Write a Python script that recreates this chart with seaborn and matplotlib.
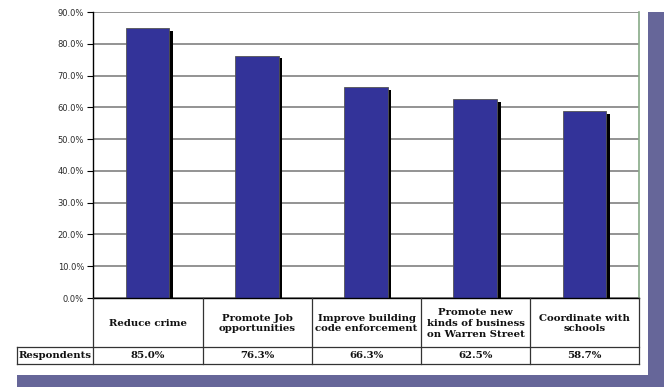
import matplotlib
matplotlib.use("Agg")
import matplotlib.pyplot as plt
import matplotlib.patheffects as pe
from matplotlib.patches import Rectangle
import seaborn as sns
import pandas as pd

categories = ["Reduce crime", "Promote Job\nopportunities", "Improve building\ncode enforcement",
              "Promote new\nkinds of business\non Warren Street", "Coordinate with\nschools"]
respondents = [85.0, 76.3, 66.3, 62.5, 58.7]
row_label = "Respondents"
y_ticks = [0, 10, 20, 30, 40, 50, 60, 70, 80, 90]

W, H = 664, 387
fig = plt.figure(figsize=(W / 100, H / 100), dpi=100)
fig.patch.set_facecolor("white")

# purple drop shadow behind the white panel
shade = "#666699"
fig.patches.append(Rectangle((648 / W, 0), 16 / W, (387 - 12) / H, transform=fig.transFigure,
                             facecolor=shade, edgecolor="none", zorder=0))
fig.patches.append(Rectangle((17 / W, 0), (664 - 17) / W, 12 / H, transform=fig.transFigure,
                             facecolor=shade, edgecolor="none", zorder=0))

left, right, top, bottom = 93, 639, 12, 298
ax = fig.add_axes([left / W, 1 - bottom / H, (right - left) / W, (bottom - top) / H])
ax.set_facecolor("white")

df = pd.DataFrame({"cat": categories, "val": respondents})
sns.barplot(data=df, x="cat", y="val", color="#333399", saturation=1, width=0.4,
            edgecolor="#555555", linewidth=0.6, ax=ax, zorder=3)
for p in ax.patches:
    p.set_path_effects([pe.SimplePatchShadow(offset=(2.5, -2), shadow_rgbFace="black", alpha=1),
                        pe.Normal()])

ax.set_xlim(-0.5, 4.5)
ax.set_ylim(0, 90)
ax.set_yticks(y_ticks)
ax.set_yticklabels([f"{v:.1f}%" for v in y_ticks], fontsize=6.0, color="#2a2a2a",
                   family="DejaVu Sans")
ax.tick_params(axis="y", direction="out", length=4, width=0.8, color="black", pad=2.5)
ax.set_xticks([])
ax.set_xlabel("")
ax.set_ylabel("")
ax.yaxis.grid(True, color="#808080", linewidth=1.2, zorder=1)
ax.set_axisbelow(True)
for s in ["top", "bottom"]:
    ax.spines[s].set_visible(False)
ax.spines["left"].set_color("black")
ax.spines["left"].set_linewidth(1.0)
ax.spines["right"].set_color("#88aa88")
ax.spines["right"].set_linewidth(1.2)

# data table under the chart, in pixel coordinates
def px(x, y):
    return x / W, 1 - y / H

col_edges = [93, 203, 312, 421, 530, 639]
row_top, row_mid, row_bot = 298, 347, 364
line_kw = dict(color="#333333", linewidth=0.9, transform=fig.transFigure)

def hline(y, x0, x1, **kw):
    a, b = px(x0, y), px(x1, y)
    fig.add_artist(plt.Line2D([a[0], b[0]], [a[1], b[1]], **{**line_kw, **kw}))

def vline(x, y0, y1, **kw):
    a, b = px(x, y0), px(x, y1)
    fig.add_artist(plt.Line2D([a[0], b[0]], [a[1], b[1]], **{**line_kw, **kw}))

hline(row_top, 93, 639, color="black", linewidth=1.0)
hline(row_mid, 17, 639)
hline(row_bot, 17, 639)
vline(17, row_mid, row_bot)
for x in col_edges:
    vline(x, row_top, row_bot)

font = dict(family="DejaVu Serif", weight="bold", fontsize=7.3, color="#111111")
for i, (cat, val) in enumerate(zip(categories, respondents)):
    cx = (col_edges[i] + col_edges[i + 1]) / 2
    fig.text(*px(cx, (row_top + row_mid) / 2 + 1), cat, ha="center", va="center",
             linespacing=1.25, **font)
    fig.text(*px(cx, (row_mid + row_bot) / 2 + 0.5), f"{val:.1f}%", ha="center", va="center", **font)
fig.text(*px(18.5, (row_mid + row_bot) / 2 + 0.5), row_label, ha="left", va="center", **font)

fig.savefig("out.png", dpi=100, facecolor="white")
